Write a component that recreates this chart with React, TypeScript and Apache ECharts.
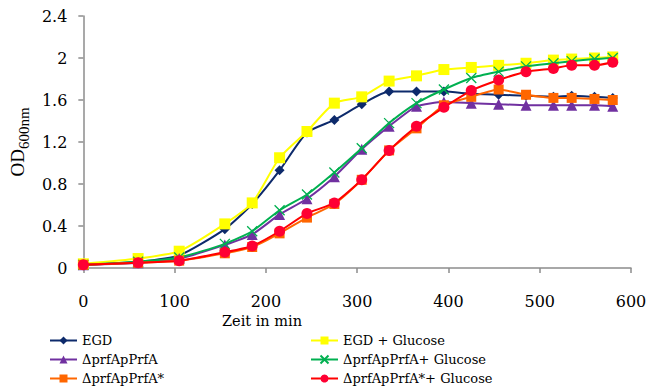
import React, { useEffect, useRef } from "react";
import * as echarts from "echarts";

const times = [0, 60, 105, 155, 185, 215, 245, 275, 305, 335, 365, 395, 425, 455, 485, 515, 535, 560, 580];
const egd = [0.03, 0.06, 0.12, 0.37, 0.61, 0.93, 1.29, 1.41, 1.56, 1.68, 1.68, 1.68, 1.66, 1.65, 1.64, 1.63, 1.64, 1.63, 1.62];
const egdGlucose = [0.04, 0.09, 0.16, 0.42, 0.62, 1.05, 1.30, 1.57, 1.63, 1.78, 1.83, 1.89, 1.91, 1.93, 1.95, 1.98, 1.99, 2.0, 2.01];
const prfA = [0.03, 0.05, 0.09, 0.22, 0.32, 0.51, 0.66, 0.87, 1.13, 1.35, 1.54, 1.58, 1.57, 1.56, 1.55, 1.55, 1.55, 1.55, 1.54];
const prfAGlucose = [0.03, 0.06, 0.10, 0.23, 0.35, 0.55, 0.70, 0.91, 1.14, 1.38, 1.57, 1.70, 1.81, 1.87, 1.92, 1.95, 1.97, 1.99, 2.0];
const prfAStar = [0.03, 0.05, 0.07, 0.14, 0.20, 0.33, 0.48, 0.61, 0.84, 1.12, 1.33, 1.55, 1.63, 1.70, 1.65, 1.62, 1.62, 1.61, 1.60];
const prfAStarGlucose = [0.03, 0.05, 0.07, 0.15, 0.21, 0.35, 0.52, 0.62, 0.84, 1.12, 1.35, 1.53, 1.69, 1.79, 1.87, 1.90, 1.93, 1.93, 1.96];

const seriesNames = [
  "EGD",
  "EGD + Glucose",
  "ΔprfApPrfA",
  "ΔprfApPrfA+ Glucose",
  "ΔprfApPrfA*",
  "ΔprfApPrfA*+ Glucose",
];
const seriesValues = [egd, egdGlucose, prfA, prfAGlucose, prfAStar, prfAStarGlucose];
const lineColors = ["#0D2A6B", "#FFFF00", "#7030A0", "#00B050", "#FF6600", "#FF0000"];
const markColors = ["#0D2A6B", "#FFFF00", "#7030A0", "#00B050", "#FF6600", "#FF0033"];
const symbols = ["diamond", "rect", "triangle", "path://M0,0L10,10M10,0L0,10", "rect", "circle"];
const symbolSizes = [10, 11, 11, 10, 10, 11];

const FONT = "DejaVu Serif";
const NAME_FONT = "Liberation Serif";

export default function App() {
  const ref = useRef<HTMLDivElement>(null);
  useEffect(() => {
    document.body.style.margin = "0";
    if (!ref.current) return;
    const chart = echarts.init(ref.current, undefined, { renderer: "svg" });
    const legendPos = [
      [49, 334],
      [310, 334],
      [49, 353],
      [310, 353],
      [49, 372],
      [310, 372],
    ];
    chart.setOption({
      animation: false,
      backgroundColor: "#ffffff",
      textStyle: { fontFamily: FONT },
      grid: { left: 83, right: 22, top: 16, bottom: 124, containLabel: false },
      xAxis: {
        type: "value",
        min: 0,
        max: 600,
        interval: 100,
        axisLine: { show: true, lineStyle: { color: "#8C8C8C", width: 1.5 } },
        axisTick: { show: true, length: 5, inside: false, lineStyle: { color: "#8C8C8C", width: 1.5 } },
        splitLine: { show: false },
        axisLabel: { margin: 25, color: "#000", fontSize: 16, fontFamily: FONT },
      },
      yAxis: {
        type: "value",
        min: 0,
        max: 2.4,
        interval: 0.4,
        name: "{a|OD}{b|600nm}",
        nameLocation: "middle",
        nameRotate: 90,
        nameGap: 56,
        nameTextStyle: {
          rich: {
            a: { fontFamily: NAME_FONT, fontSize: 19, color: "#000", verticalAlign: "bottom" },
            b: { fontFamily: NAME_FONT, fontSize: 15, color: "#000", verticalAlign: "bottom", padding: [0, 0, -4, 0] },
          },
        },
        axisLine: { show: true, lineStyle: { color: "#8C8C8C", width: 1.5 } },
        axisTick: { show: true, length: 5, inside: false, lineStyle: { color: "#8C8C8C", width: 1.5 } },
        splitLine: { show: false },
        axisLabel: { margin: 16, color: "#000", fontSize: 16, fontFamily: FONT },
      },
      legend: seriesNames.map((n, i) => ({
        data: [n],
        left: legendPos[i][0],
        top: legendPos[i][1],
        itemWidth: 27,
        itemHeight: 10,
        padding: 0,
        textStyle: { fontFamily: FONT, fontSize: 13, color: "#000" },
      })),
      graphic: [
        {
          type: "text",
          x: 262,
          y: 321,
          style: {
            text: "Zeit in min",
            fontFamily: FONT,
            fontSize: 14.5,
            fill: "#000",
            align: "center",
            verticalAlign: "middle",
          },
        },
      ],
      series: seriesNames.map((n, i) => ({
        name: n,
        type: "line",
        data: times.map((t, j) => [t, seriesValues[i][j]]),
        smooth: 0.2,
        symbol: symbols[i],
        symbolSize: symbolSizes[i],
        showSymbol: true,
        lineStyle: { color: lineColors[i], width: 2 },
        itemStyle:
          i === 3
            ? { color: "rgba(0,0,0,0)", borderColor: markColors[i], borderWidth: 1.3 }
            : { color: markColors[i], borderColor: markColors[i], borderWidth: 0 },
        z: 2 + i,
      })),
    });
    return () => chart.dispose();
  }, []);
  return <div ref={ref} style={{ width: 653, height: 392 }} />;
}
